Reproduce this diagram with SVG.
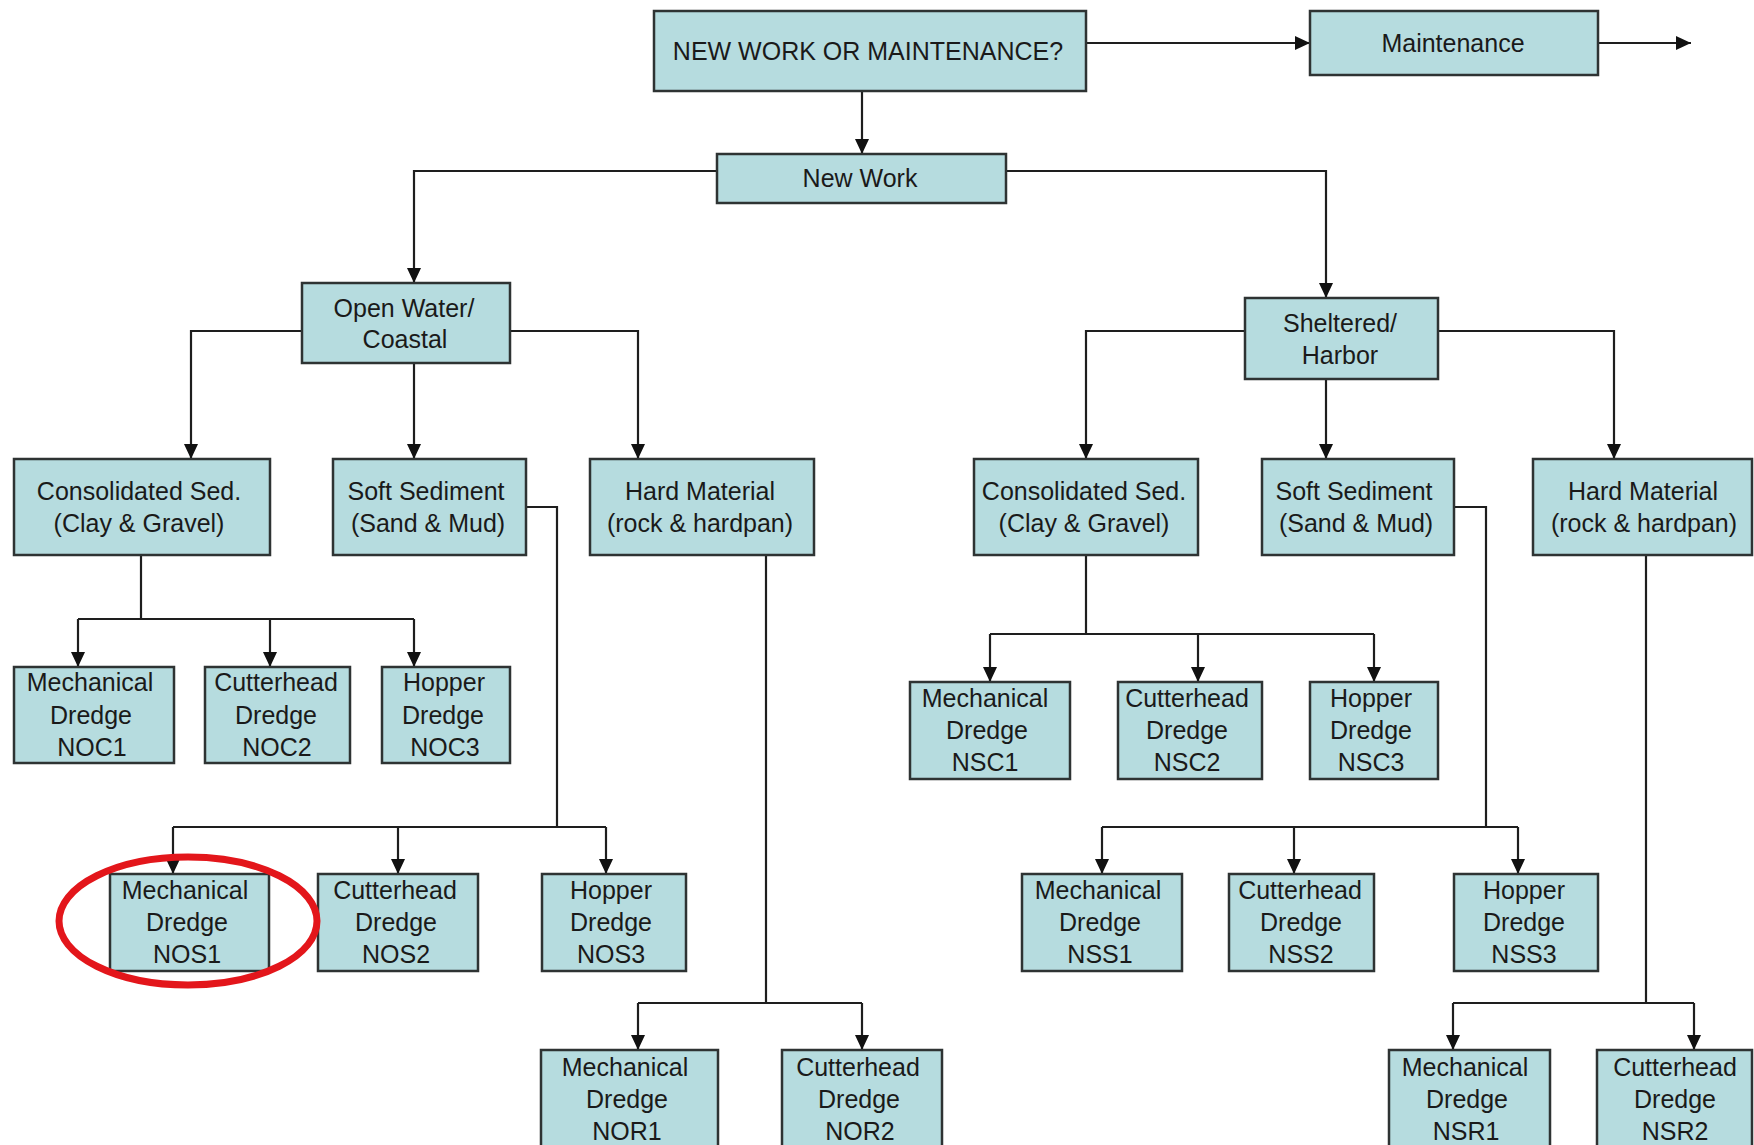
<svg xmlns="http://www.w3.org/2000/svg" width="1754" height="1145" viewBox="0 0 1754 1145">
<style>
.box{fill:#b6dcdf;stroke:#2e3333;stroke-width:2.5}
.t{font-family:"Liberation Sans",Arial,sans-serif;font-size:25px;fill:#1a1a1a;text-anchor:middle}
.c{fill:none;stroke:#1e1e1e;stroke-width:2.2}
</style>
<defs>
<marker id="ah" markerUnits="userSpaceOnUse" markerWidth="16" markerHeight="14" refX="15" refY="7" orient="auto">
<path d="M0,0 L15,7 L0,14 z" fill="#111"/>
</marker>
</defs>
<rect width="1754" height="1145" fill="#fff"/>
<g id="connectors">
<path class="c" d="M1086,43 H1310" marker-end="url(#ah)"/>
<path class="c" d="M1598,43 H1691" marker-end="url(#ah)"/>
<path class="c" d="M862,91 V154" marker-end="url(#ah)"/>
<path class="c" d="M717,171 H414 V283" marker-end="url(#ah)"/>
<path class="c" d="M1006,171 H1326 V298" marker-end="url(#ah)"/>
<path class="c" d="M302,331 H191 V459" marker-end="url(#ah)"/>
<path class="c" d="M414,363 V459" marker-end="url(#ah)"/>
<path class="c" d="M510,331 H638 V459" marker-end="url(#ah)"/>
<path class="c" d="M141,555 V619 M78,619 H414"/>
<path class="c" d="M78,619 V667" marker-end="url(#ah)"/>
<path class="c" d="M270,619 V667" marker-end="url(#ah)"/>
<path class="c" d="M414,619 V667" marker-end="url(#ah)"/>
<path class="c" d="M526,507 H557 V827 M173,827 H606"/>
<path class="c" d="M173,827 V874" marker-end="url(#ah)"/>
<path class="c" d="M398,827 V874" marker-end="url(#ah)"/>
<path class="c" d="M606,827 V874" marker-end="url(#ah)"/>
<path class="c" d="M766,555 V1003 M638,1003 H862"/>
<path class="c" d="M638,1003 V1050" marker-end="url(#ah)"/>
<path class="c" d="M862,1003 V1050" marker-end="url(#ah)"/>
<path class="c" d="M1245,331 H1086 V459" marker-end="url(#ah)"/>
<path class="c" d="M1326,379 V459" marker-end="url(#ah)"/>
<path class="c" d="M1438,331 H1614 V459" marker-end="url(#ah)"/>
<path class="c" d="M1086,555 V634 M990,634 H1374"/>
<path class="c" d="M990,634 V682" marker-end="url(#ah)"/>
<path class="c" d="M1198,634 V682" marker-end="url(#ah)"/>
<path class="c" d="M1374,634 V682" marker-end="url(#ah)"/>
<path class="c" d="M1454,507 H1486 V827 M1102,827 H1518"/>
<path class="c" d="M1102,827 V874" marker-end="url(#ah)"/>
<path class="c" d="M1294,827 V874" marker-end="url(#ah)"/>
<path class="c" d="M1518,827 V874" marker-end="url(#ah)"/>
<path class="c" d="M1646,555 V1003 M1453,1003 H1694"/>
<path class="c" d="M1453,1003 V1050" marker-end="url(#ah)"/>
<path class="c" d="M1694,1003 V1050" marker-end="url(#ah)"/>
</g>
<g id="n-question"><rect class="box" x="654" y="11" width="432" height="80"/><text class="t" x="868" y="60">NEW WORK OR MAINTENANCE?</text></g>
<g id="n-maintenance"><rect class="box" x="1310" y="11" width="288" height="64"/><text class="t" x="1453" y="52">Maintenance</text></g>
<g id="n-newwork"><rect class="box" x="717" y="154" width="289" height="49"/><text class="t" x="860" y="187">New Work</text></g>
<g id="n-openwater"><rect class="box" x="302" y="283" width="208" height="80"/><text class="t" x="404" y="317">Open Water/</text><text class="t" x="405" y="348">Coastal</text></g>
<g id="n-sheltered"><rect class="box" x="1245" y="298" width="193" height="81"/><text class="t" x="1340" y="332">Sheltered/</text><text class="t" x="1340" y="364">Harbor</text></g>
<g id="n-consL"><rect class="box" x="14" y="459" width="256" height="96"/><text class="t" x="139" y="500">Consolidated Sed.</text><text class="t" x="139" y="532">(Clay &amp; Gravel)</text></g>
<g id="n-softL"><rect class="box" x="333" y="459" width="193" height="96"/><text class="t" x="426" y="500">Soft Sediment</text><text class="t" x="428" y="532">(Sand &amp; Mud)</text></g>
<g id="n-hardL"><rect class="box" x="590" y="459" width="224" height="96"/><text class="t" x="700" y="500">Hard Material</text><text class="t" x="700" y="532">(rock &amp; hardpan)</text></g>
<g id="n-consR"><rect class="box" x="974" y="459" width="224" height="96"/><text class="t" x="1084" y="500">Consolidated Sed.</text><text class="t" x="1084" y="532">(Clay &amp; Gravel)</text></g>
<g id="n-softR"><rect class="box" x="1262" y="459" width="192" height="96"/><text class="t" x="1354" y="500">Soft Sediment</text><text class="t" x="1356" y="532">(Sand &amp; Mud)</text></g>
<g id="n-hardR"><rect class="box" x="1533" y="459" width="219" height="96"/><text class="t" x="1643" y="500">Hard Material</text><text class="t" x="1644" y="532">(rock &amp; hardpan)</text></g>
<g id="n-NOC1"><rect class="box" x="14" y="667" width="160" height="96"/><text class="t" x="90" y="691">Mechanical</text><text class="t" x="91" y="724">Dredge</text><text class="t" x="92" y="756">NOC1</text></g>
<g id="n-NOC2"><rect class="box" x="205" y="667" width="145" height="96"/><text class="t" x="276" y="691">Cutterhead</text><text class="t" x="276" y="724">Dredge</text><text class="t" x="277" y="756">NOC2</text></g>
<g id="n-NOC3"><rect class="box" x="382" y="667" width="128" height="96"/><text class="t" x="444" y="691">Hopper</text><text class="t" x="443" y="724">Dredge</text><text class="t" x="445" y="756">NOC3</text></g>
<g id="n-NOS1"><rect class="box" x="110" y="874" width="159" height="97"/><text class="t" x="185" y="899">Mechanical</text><text class="t" x="187" y="931">Dredge</text><text class="t" x="187" y="963">NOS1</text></g>
<g id="n-NOS2"><rect class="box" x="318" y="874" width="160" height="97"/><text class="t" x="395" y="899">Cutterhead</text><text class="t" x="396" y="931">Dredge</text><text class="t" x="396" y="963">NOS2</text></g>
<g id="n-NOS3"><rect class="box" x="542" y="874" width="144" height="97"/><text class="t" x="611" y="899">Hopper</text><text class="t" x="611" y="931">Dredge</text><text class="t" x="611" y="963">NOS3</text></g>
<g id="n-NOR1"><rect class="box" x="541" y="1050" width="177" height="100"/><text class="t" x="625" y="1076">Mechanical</text><text class="t" x="627" y="1108">Dredge</text><text class="t" x="627" y="1140">NOR1</text></g>
<g id="n-NOR2"><rect class="box" x="782" y="1050" width="160" height="100"/><text class="t" x="858" y="1076">Cutterhead</text><text class="t" x="859" y="1108">Dredge</text><text class="t" x="860" y="1140">NOR2</text></g>
<g id="n-NSC1"><rect class="box" x="910" y="682" width="160" height="97"/><text class="t" x="985" y="707">Mechanical</text><text class="t" x="987" y="739">Dredge</text><text class="t" x="985" y="771">NSC1</text></g>
<g id="n-NSC2"><rect class="box" x="1118" y="682" width="144" height="97"/><text class="t" x="1187" y="707">Cutterhead</text><text class="t" x="1187" y="739">Dredge</text><text class="t" x="1187" y="771">NSC2</text></g>
<g id="n-NSC3"><rect class="box" x="1310" y="682" width="128" height="97"/><text class="t" x="1371" y="707">Hopper</text><text class="t" x="1371" y="739">Dredge</text><text class="t" x="1371" y="771">NSC3</text></g>
<g id="n-NSS1"><rect class="box" x="1022" y="874" width="160" height="97"/><text class="t" x="1098" y="899">Mechanical</text><text class="t" x="1100" y="931">Dredge</text><text class="t" x="1100" y="963">NSS1</text></g>
<g id="n-NSS2"><rect class="box" x="1229" y="874" width="145" height="97"/><text class="t" x="1300" y="899">Cutterhead</text><text class="t" x="1301" y="931">Dredge</text><text class="t" x="1301" y="963">NSS2</text></g>
<g id="n-NSS3"><rect class="box" x="1454" y="874" width="144" height="97"/><text class="t" x="1524" y="899">Hopper</text><text class="t" x="1524" y="931">Dredge</text><text class="t" x="1524" y="963">NSS3</text></g>
<g id="n-NSR1"><rect class="box" x="1389" y="1050" width="161" height="100"/><text class="t" x="1465" y="1076">Mechanical</text><text class="t" x="1467" y="1108">Dredge</text><text class="t" x="1466" y="1140">NSR1</text></g>
<g id="n-NSR2"><rect class="box" x="1597" y="1050" width="155" height="100"/><text class="t" x="1675" y="1076">Cutterhead</text><text class="t" x="1675" y="1108">Dredge</text><text class="t" x="1675" y="1140">NSR2</text></g>
<g id="highlight"><ellipse cx="188" cy="921" rx="129" ry="64" fill="none" stroke="#e3161b" stroke-width="7"/></g>
</svg>
